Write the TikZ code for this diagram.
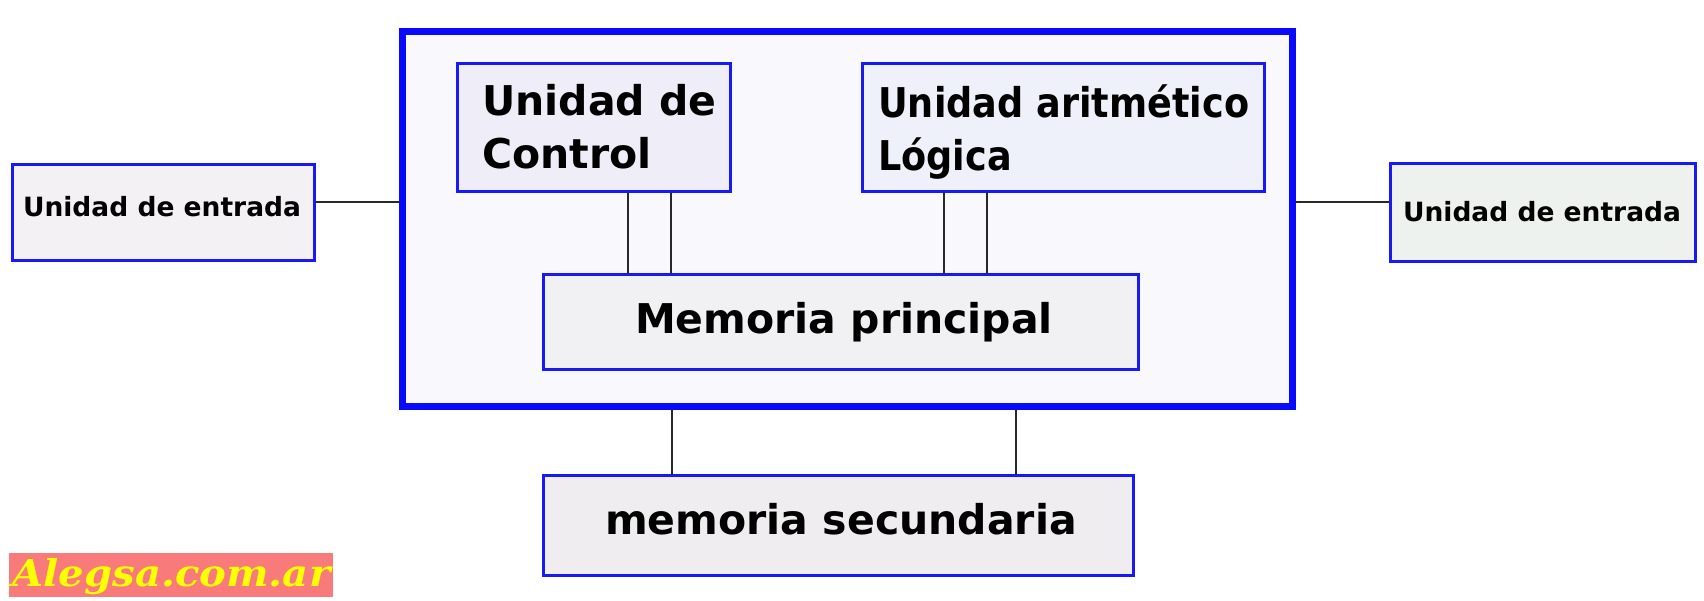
\documentclass[tikz,border=0pt]{standalone}
\usepackage{graphicx}
\usepackage{fontspec}
\setmainfont{DejaVu Sans}
\newfontfamily\wmfont{DejaVu Serif}
\definecolor{bordblue}{RGB}{25,25,245}
\definecolor{thickblue}{RGB}{10,10,250}
\definecolor{conn}{RGB}{40,40,40}
\definecolor{fillout}{RGB}{249,248,252}
\definecolor{fillin}{RGB}{243,241,244}
\definecolor{fillctrl}{RGB}{239,238,248}
\definecolor{fillalu}{RGB}{238,241,250}
\definecolor{fillout2}{RGB}{238,242,238}
\definecolor{fillmemp}{RGB}{241,240,243}
\definecolor{fillmems}{RGB}{239,237,239}
\definecolor{wmbg}{RGB}{248,122,122}
\definecolor{wmtext}{RGB}{255,255,0}
\begin{document}
\begin{tikzpicture}[x=1pt,y=-1pt,
  unitbox/.style={draw=bordblue, line width=2.5pt, rectangle, inner sep=0pt, anchor=north west},
  cpubox/.style={draw=thickblue, line width=7pt, rectangle, inner sep=0pt, anchor=north west, fill=fillout},
  wire/.style={draw=conn, line width=2.4pt},
  smalltext/.style={inner sep=0pt, font=\bfseries\fontsize{26.5}{30}\selectfont},
  bigtext/.style={inner sep=0pt, font=\bfseries\fontsize{41}{53}\selectfont}
]
\useasboundingbox[fill=white] (0,0) rectangle (1704,600);

% boxes
\node[cpubox, minimum width=890pt, minimum height=375pt] (cpu) at (399,28) {};
\node[unitbox, fill=fillin, minimum width=302pt, minimum height=96pt] (inL) at (11,163) {};
\node[unitbox, fill=fillout2, minimum width=305pt, minimum height=98pt] (inR) at (1389,162) {};
\node[unitbox, fill=fillctrl, minimum width=273pt, minimum height=128pt] (ctrl) at (456,62) {};
\node[unitbox, fill=fillalu, minimum width=402pt, minimum height=128pt] (alu) at (861,62) {};
\node[unitbox, fill=fillmemp, minimum width=595pt, minimum height=95pt] (memp) at (542,273) {};
\node[unitbox, fill=fillmems, minimum width=590pt, minimum height=100pt] (mems) at (542,474) {};

% texts
\node[smalltext, anchor=base] (tinL) at (162,216) {Unidad de entrada};
\node[smalltext, anchor=base] (tinR) at (1542,221) {Unidad de entrada};
\node[bigtext, anchor=base west] (tctrl) at (482,115) {\vtop{\hbox{Unidad de}\hbox{Control}}};
\node[bigtext, anchor=base west] (talu) at (878,117) {\scalebox{0.893}[1]{\vtop{\hbox{Unidad aritmético}\hbox{Lógica}}}};
\node[bigtext, anchor=base] (tmemp) at (844,333) {Memoria principal};
\node[bigtext, anchor=base] (tmems) at (841,534) {memoria secundaria};

% connectors
\coordinate (hl) at (0,202);
\coordinate (c1) at (628,0);
\coordinate (c2) at (671,0);
\coordinate (a1) at (944,0);
\coordinate (a2) at (987,0);
\coordinate (s1) at (672,0);
\coordinate (s2) at (1016,0);
\draw[wire] (inL.east |- hl) -- (cpu.west |- hl);
\draw[wire] (cpu.east |- hl) -- (inR.west |- hl);
\draw[wire] (ctrl.south -| c1) -- (memp.north -| c1);
\draw[wire] (ctrl.south -| c2) -- (memp.north -| c2);
\draw[wire] (alu.south -| a1) -- (memp.north -| a1);
\draw[wire] (alu.south -| a2) -- (memp.north -| a2);
\draw[wire] (cpu.south -| s1) -- (mems.north -| s1);
\draw[wire] (cpu.south -| s2) -- (mems.north -| s2);

% watermark
\node[fill=wmbg, anchor=north west, minimum width=324pt, minimum height=44pt, inner sep=0pt] (wm) at (9,553) {};
\node[inner sep=0pt, anchor=base west, text=wmtext] (wmt) at (12,586) {\resizebox{318pt}{\height}{\wmfont\bfseries\itshape\fontsize{37}{37}\selectfont Alegsa.com.ar}};
\end{tikzpicture}
\end{document}
